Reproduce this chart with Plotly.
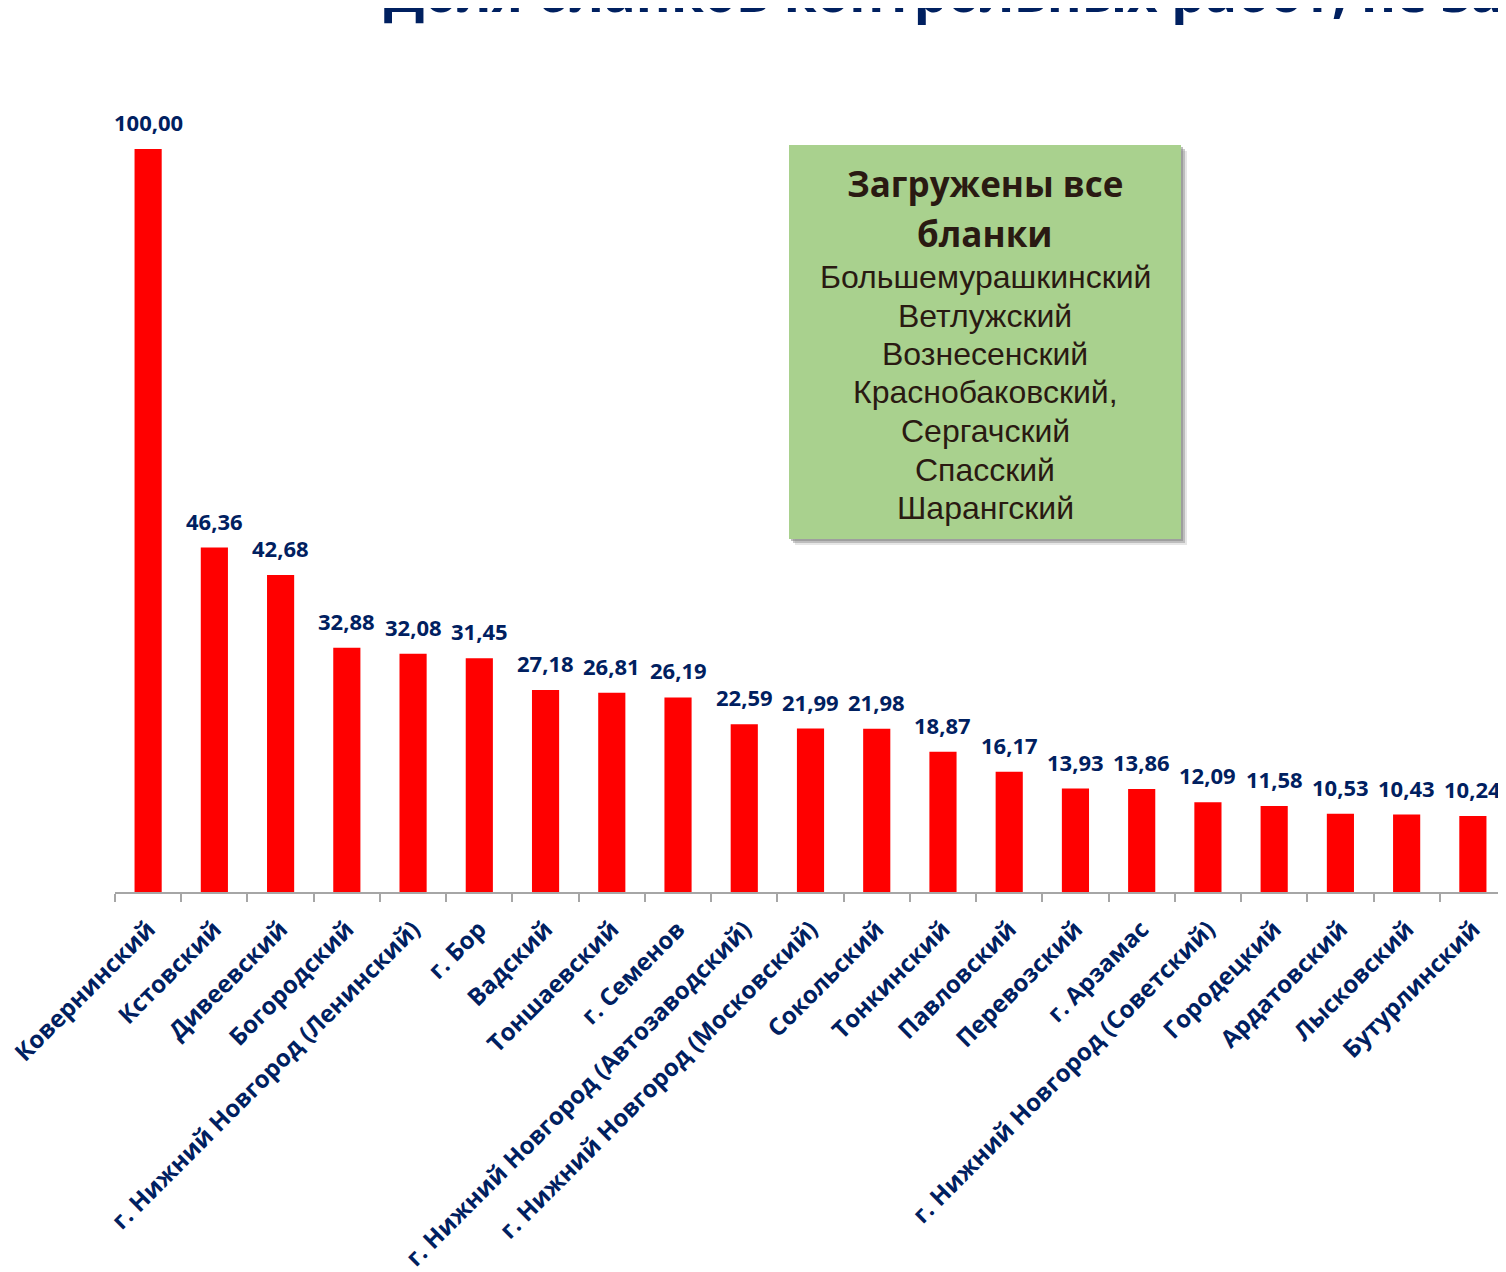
import plotly.graph_objects as go

categories = [
    "Ковернинский", "Кстовский", "Дивеевский", "Богородский",
    "г. Нижний Новгород (Ленинский)", "г. Бор", "Вадский", "Тоншаевский",
    "г. Семенов", "г. Нижний Новгород (Автозаводский)",
    "г. Нижний Новгород (Московский)", "Сокольский", "Тонкинский",
    "Павловский", "Перевозский", "г. Арзамас",
    "г. Нижний Новгород (Советский)", "Городецкий", "Ардатовский",
    "Лысковский", "Бутурлинский",
]
values = [100.00, 46.36, 42.68, 32.88, 32.08, 31.45, 27.18, 26.81, 26.19,
          22.59, 21.99, 21.98, 18.87, 16.17, 13.93, 13.86, 12.09, 11.58,
          10.53, 10.43, 10.24]

title_text = "Доля бланков контрольных работ, не загруженных в систему"
box_title = ["Загружены все", "бланки"]
box_lines = ["Большемурашкинский", "Ветлужский", "Вознесенский",
             "Краснобаковский,", "Сергачский", "Спасский", "Шарангский"]

W, H = 1506, 1272
OFF = 8  # page body margin
# target screen positions
AX_LEFT, AX_RIGHT, AX_BOTTOM, AX_TOP = 115, 1506, 892, 100
ML = AX_LEFT - OFF
MR = W - (AX_RIGHT - OFF)
MT = AX_TOP - OFF
MB = H - (AX_BOTTOM - OFF)
plot_w = W - ML - MR
plot_h = H - MT - MB
px_per_unit = 7.43
ymax = plot_h / px_per_unit

NAVY = "#002060"
BROWN = "#2a1a12"


def px_to_paper_x(px):
    return (px - AX_LEFT) / (AX_RIGHT - AX_LEFT)


def px_to_paper_y(py):
    return (AX_BOTTOM - py) / (AX_BOTTOM - AX_TOP)


fig = go.Figure()
fig.add_trace(go.Bar(
    x=categories, y=values,
    marker=dict(color="#FF0000", line=dict(width=0)),
    width=0.41,
    hoverinfo="x+y",
))

for c, v in zip(categories, values):
    fig.add_annotation(
        x=c, y=v, xref="x", yref="y",
        text=f"{v:.2f}".replace(".", ","),
        showarrow=False, yanchor="bottom", yshift=10,
        font=dict(family="Open Sans", size=22, color=NAVY, weight="bold"),
    )

# green info box with shadow
bx0, bx1, by0, by1 = 789, 1181, 145, 539
for off, col, op in [(6, "#9a9a9a", 0.25), (4, "#8c8c8c", 0.45), (2, "#7f7f7f", 0.5)]:
    fig.add_shape(type="rect", xref="paper", yref="paper",
                  x0=px_to_paper_x(bx0 + off), x1=px_to_paper_x(bx1 + off),
                  y0=px_to_paper_y(by1 + off), y1=px_to_paper_y(by0 + off),
                  fillcolor=col, opacity=op, line=dict(width=0), layer="above")
fig.add_shape(type="rect", xref="paper", yref="paper",
              x0=px_to_paper_x(bx0), x1=px_to_paper_x(bx1),
              y0=px_to_paper_y(by1), y1=px_to_paper_y(by0),
              fillcolor="#A9D18E", line=dict(width=0), layer="above")

cx = px_to_paper_x((bx0 + bx1) / 2)
for i, t in enumerate(box_title):
    fig.add_annotation(
        x=cx, y=px_to_paper_y(183 + 50 * i), xref="paper", yref="paper",
        text=t, showarrow=False, xanchor="center", yanchor="middle",
        font=dict(family="Open Sans", size=35, color=BROWN, weight="bold"),
    )
for i, t in enumerate(box_lines):
    fig.add_annotation(
        x=cx, y=px_to_paper_y(277 + 38.5 * i), xref="paper", yref="paper",
        text=t, showarrow=False, xanchor="center", yanchor="middle",
        font=dict(family="Liberation Sans", size=32, color=BROWN),
    )

# title (clipped at the top of the page as in the reference)
fig.add_annotation(
    x=px_to_paper_x(382), y=px_to_paper_y(30), xref="paper", yref="paper",
    text=title_text, showarrow=False, xanchor="left", yanchor="bottom",
    font=dict(family="Open Sans", size=53, color=NAVY, weight="bold"),
)

fig.update_layout(
    width=W, height=H,
    margin=dict(l=ML, r=MR, t=MT, b=MB, autoexpand=False),
    plot_bgcolor="white", paper_bgcolor="white",
    showlegend=False,
    xaxis=dict(
        type="category", range=[-0.5, len(categories) - 0.5],
        showline=True, linecolor="#A6A6A6", linewidth=1.5,
        ticks="outside", tickson="boundaries", ticklen=8,
        tickcolor="#A6A6A6", tickwidth=1.5,
        tickangle=-45, showgrid=False, ticklabelstandoff=12,
        tickfont=dict(family="Open Sans", size=24, color=NAVY, weight="bold"),
    ),
    yaxis=dict(range=[0, ymax], visible=False, showgrid=False),
)

fig.write_html("out.html")
